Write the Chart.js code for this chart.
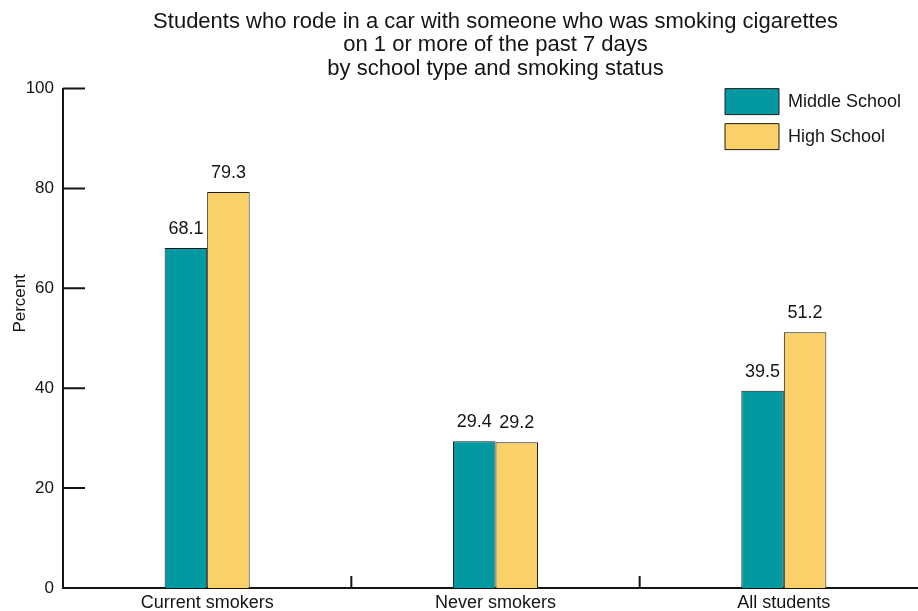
<!DOCTYPE html>
<html>
<head>
<meta charset="utf-8">
<title>Students who rode in a car with someone who was smoking cigarettes</title>
<script src="https://cdn.jsdelivr.net/npm/chart.js@4.4.0/dist/chart.umd.min.js"></script>
<style>
  html, body { margin: 0; padding: 0; background: #fff; overflow: hidden; }
  #wrap { width: 918px; height: 611px; overflow: hidden; }
</style>
</head>
<body>
<div id="wrap">
  <canvas id="grafico-barras" width="962" height="611"></canvas>
</div>
<script>
var categories = ['Current smokers', 'Never smokers', 'All students'];
var middleSchool = [68.1, 29.4, 39.5];
var highSchool = [79.3, 29.2, 51.2];
var seriesNames = ['Middle School', 'High School'];
var titleLines = [
    'Students who rode in a car with someone who was smoking cigarettes',
    'on 1 or more of the past 7 days',
    'by school type and smoking status'
];
var yAxisTitle = 'Percent';

var FONT = "'Liberation Sans', Arial, sans-serif";
var INK = '#151515';

// legend sits inside the plot, top right
var legendSpot = {
    id: 'legendSpot',
    afterLayout: function(chart) {
        var lg = chart.legend;
        lg.left = chart.chartArea.right - 212;
        lg.top = chart.chartArea.top - 9;
    }
};

// tick marks point inward, short separators between categories, y title
var axisMarks = {
    id: 'axisMarks',
    afterDraw: function(chart) {
        var ctx = chart.ctx, area = chart.chartArea;
        var x = chart.scales.x, y = chart.scales.y;
        ctx.save();
        ctx.strokeStyle = INK;
        ctx.lineWidth = 2;
        ctx.beginPath();
        y.ticks.forEach(function(t, i) {
            var py = y.getPixelForTick(i);
            ctx.moveTo(area.left, py);
            ctx.lineTo(area.left + 22, py);
        });
        for (var i = 1; i < x.ticks.length; i++) {
            var px = (x.getPixelForTick(i - 1) + x.getPixelForTick(i)) / 2;
            ctx.moveTo(px, area.bottom);
            ctx.lineTo(px, area.bottom - 12);
        }
        ctx.stroke();

        ctx.fillStyle = INK;
        ctx.font = '17px ' + FONT;
        ctx.textAlign = 'center';
        ctx.textBaseline = 'middle';
        ctx.translate(y.left + 20, (area.top + area.bottom) / 2 - 35);
        ctx.rotate(-Math.PI / 2);
        ctx.fillText(yAxisTitle, 0, 0);
        ctx.restore();
    }
};

// value above each bar
var barValues = {
    id: 'barValues',
    afterDatasetsDraw: function(chart) {
        var ctx = chart.ctx;
        ctx.save();
        ctx.fillStyle = INK;
        ctx.font = '18px ' + FONT;
        ctx.textAlign = 'center';
        ctx.textBaseline = 'alphabetic';
        chart.data.datasets.forEach(function(ds, i) {
            chart.getDatasetMeta(i).data.forEach(function(bar, j) {
                ctx.fillText(ds.data[j].toFixed(1), bar.x, bar.y - 14);
            });
        });
        ctx.restore();
    }
};

var ctx = document.getElementById('grafico-barras').getContext('2d');
var config = {
    type: 'bar',
    data: {
        labels: categories,
        datasets: [{
            label: seriesNames[0],
            data: middleSchool,
            backgroundColor: '#029aa0',
            borderColor: '#1c1c1c',
            borderWidth: 1
        }, {
            label: seriesNames[1],
            data: highSchool,
            backgroundColor: '#f9d168',
            borderColor: '#1c1c1c',
            borderWidth: 1
        }]
    },
    options: {
        responsive: false,
        animation: false,
        devicePixelRatio: 1,
        layout: { padding: { left: 0, right: 34, top: 0, bottom: 0 } },
        datasets: {
            bar: { barPercentage: 1, categoryPercentage: 0.295 }
        },
        plugins: {
            tooltip: { enabled: false },
            title: {
                display: true,
                fullSize: false,
                text: titleLines,
                color: INK,
                font: { family: FONT, size: 22, weight: 'normal', lineHeight: 1.07 },
                padding: { top: 10, bottom: 8 }
            },
            legend: {
                position: 'chartArea',
                align: 'start',
                labels: {
                    boxWidth: 54,
                    boxHeight: 26,
                    padding: 9,
                    color: INK,
                    font: { family: FONT, size: 18 }
                }
            }
        },
        scales: {
            x: {
                grid: { display: false, tickLength: 0 },
                border: { display: true, color: INK, width: 2 },
                ticks: { color: INK, padding: 4, font: { family: FONT, size: 18 } },
                afterFit: function(scale) { scale.height = 23; }
            },
            y: {
                min: 0,
                max: 100,
                grid: { display: false, tickLength: 0 },
                border: { display: true, color: INK, width: 2 },
                ticks: { stepSize: 20, color: INK, padding: 9, font: { family: FONT, size: 17 } },
                afterFit: function(scale) { scale.width = 63; }
            }
        }
    },
    plugins: [legendSpot, axisMarks, barValues]
};
var grafico = new Chart(ctx, config);
</script>
</body>
</html>
